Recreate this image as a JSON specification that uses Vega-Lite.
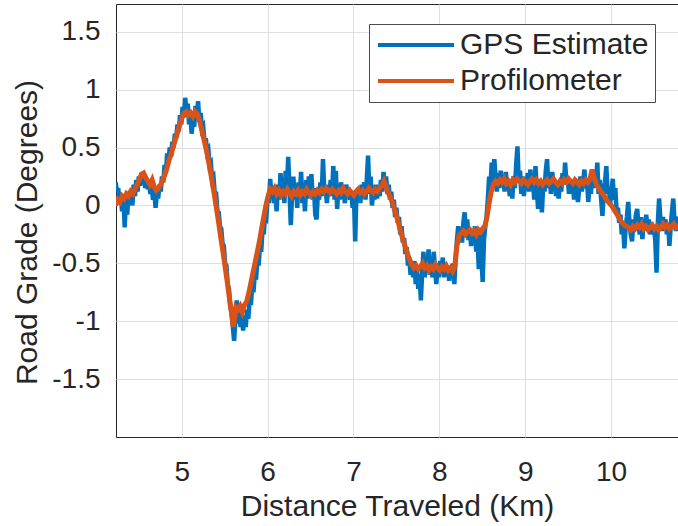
{
"$schema": "https://vega.github.io/schema/vega-lite/v6.json",
"width": 562, "height": 433,
"autosize": {"type": "none"},
"padding": {"left": 116, "top": 4, "right": 0, "bottom": 89},
"background": "white",
"config": {
  "view": {"stroke": "#262626", "strokeWidth": 1},
  "font": "Liberation Sans",
  "axis": {"domain": false, "ticks": false, "grid": true, "gridColor": "#dedede", "gridWidth": 1,
           "labelFont": "Liberation Sans", "labelFontSize": 28, "labelColor": "#262626",
           "titleFont": "Liberation Sans", "titleFontSize": 30, "titleFontWeight": "normal", "titleColor": "#262626"}
},
"datasets": {
"gps": [
{"km":4.230,"g":0.20},{"km":4.245,"g":0.12},{"km":4.260,"g":0.15},{"km":4.275,"g":0.02},{"km":4.290,"g":0.08},{"km":4.305,"g":-0.05},{"km":4.320,"g":0.10},{"km":4.335,"g":-0.19},{"km":4.350,"g":0.05},{"km":4.365,"g":-0.08},{"km":4.380,"g":0.12},{"km":4.395,"g":0.02},{"km":4.410,"g":0.14},{"km":4.425,"g":0.00},{"km":4.440,"g":0.18},{"km":4.455,"g":0.08},{"km":4.470,"g":0.22},{"km":4.485,"g":0.12},{"km":4.500,"g":0.25},{"km":4.515,"g":0.17},{"km":4.530,"g":0.28},{"km":4.545,"g":0.20},{"km":4.560,"g":0.25},{"km":4.575,"g":0.15},{"km":4.590,"g":0.22},{"km":4.605,"g":0.14},{"km":4.620,"g":0.18},{"km":4.635,"g":0.10},{"km":4.650,"g":0.16},{"km":4.665,"g":0.05},{"km":4.680,"g":0.12},{"km":4.695,"g":-0.02},{"km":4.710,"g":0.10},{"km":4.725,"g":0.06},{"km":4.740,"g":0.18},{"km":4.755,"g":0.12},{"km":4.770,"g":0.25},{"km":4.785,"g":0.20},{"km":4.800,"g":0.35},{"km":4.815,"g":0.28},{"km":4.830,"g":0.45},{"km":4.845,"g":0.38},{"km":4.860,"g":0.50},{"km":4.875,"g":0.42},{"km":4.890,"g":0.55},{"km":4.905,"g":0.50},{"km":4.920,"g":0.62},{"km":4.935,"g":0.58},{"km":4.950,"g":0.70},{"km":4.965,"g":0.64},{"km":4.980,"g":0.78},{"km":4.995,"g":0.70},{"km":5.010,"g":0.85},{"km":5.025,"g":0.76},{"km":5.040,"g":0.93},{"km":5.055,"g":0.82},{"km":5.070,"g":0.88},{"km":5.085,"g":0.70},{"km":5.100,"g":0.78},{"km":5.115,"g":0.62},{"km":5.130,"g":0.74},{"km":5.145,"g":0.68},{"km":5.160,"g":0.86},{"km":5.175,"g":0.75},{"km":5.190,"g":0.90},{"km":5.205,"g":0.72},{"km":5.220,"g":0.80},{"km":5.235,"g":0.66},{"km":5.250,"g":0.68},{"km":5.265,"g":0.55},{"km":5.280,"g":0.58},{"km":5.295,"g":0.46},{"km":5.310,"g":0.48},{"km":5.325,"g":0.34},{"km":5.340,"g":0.36},{"km":5.355,"g":0.22},{"km":5.370,"g":0.24},{"km":5.385,"g":0.10},{"km":5.400,"g":0.10},{"km":5.415,"g":-0.05},{"km":5.430,"g":-0.06},{"km":5.445,"g":-0.18},{"km":5.460,"g":-0.20},{"km":5.475,"g":-0.33},{"km":5.490,"g":-0.35},{"km":5.505,"g":-0.50},{"km":5.520,"g":-0.52},{"km":5.535,"g":-0.68},{"km":5.550,"g":-0.72},{"km":5.565,"g":-0.88},{"km":5.580,"g":-0.92},{"km":5.595,"g":-1.05},{"km":5.610,"g":-1.17},{"km":5.625,"g":-0.98},{"km":5.640,"g":-0.82},{"km":5.655,"g":-1.02},{"km":5.670,"g":-0.90},{"km":5.685,"g":-1.05},{"km":5.700,"g":-0.96},{"km":5.715,"g":-1.08},{"km":5.730,"g":-0.95},{"km":5.745,"g":-1.05},{"km":5.760,"g":-0.90},{"km":5.775,"g":-0.98},{"km":5.790,"g":-0.82},{"km":5.805,"g":-0.86},{"km":5.820,"g":-0.70},{"km":5.835,"g":-0.75},{"km":5.850,"g":-0.60},{"km":5.865,"g":-0.64},{"km":5.880,"g":-0.48},{"km":5.895,"g":-0.52},{"km":5.910,"g":-0.36},{"km":5.925,"g":-0.40},{"km":5.940,"g":-0.22},{"km":5.955,"g":-0.25},{"km":5.970,"g":-0.08},{"km":5.985,"g":-0.10},
{"km":6.000,"g":0.05},{"km":6.015,"g":0.02},{"km":6.030,"g":0.23},{"km":6.045,"g":0.08},{"km":6.060,"g":0.15},{"km":6.075,"g":0.02},{"km":6.090,"g":0.10},{"km":6.105,"g":-0.05},{"km":6.120,"g":0.18},{"km":6.135,"g":0.05},{"km":6.150,"g":0.28},{"km":6.165,"g":0.10},{"km":6.180,"g":0.22},{"km":6.195,"g":0.02},{"km":6.210,"g":0.30},{"km":6.225,"g":0.15},{"km":6.240,"g":0.42},{"km":6.255,"g":0.12},{"km":6.270,"g":-0.17},{"km":6.285,"g":0.10},{"km":6.300,"g":0.25},{"km":6.315,"g":0.05},{"km":6.330,"g":0.18},{"km":6.345,"g":-0.02},{"km":6.360,"g":0.20},{"km":6.375,"g":0.08},{"km":6.390,"g":0.29},{"km":6.405,"g":0.02},{"km":6.420,"g":0.12},{"km":6.435,"g":-0.05},{"km":6.450,"g":0.22},{"km":6.465,"g":0.06},{"km":6.480,"g":0.25},{"km":6.495,"g":0.10},{"km":6.510,"g":0.27},{"km":6.525,"g":0.05},{"km":6.540,"g":0.15},{"km":6.555,"g":-0.08},{"km":6.570,"g":-0.12},{"km":6.585,"g":0.10},{"km":6.600,"g":0.05},{"km":6.615,"g":0.20},{"km":6.630,"g":0.08},{"km":6.645,"g":0.40},{"km":6.660,"g":0.12},{"km":6.675,"g":0.18},{"km":6.690,"g":0.02},{"km":6.705,"g":0.15},{"km":6.720,"g":0.10},{"km":6.735,"g":0.22},{"km":6.750,"g":0.08},{"km":6.765,"g":0.34},{"km":6.780,"g":0.05},{"km":6.795,"g":0.30},{"km":6.810,"g":-0.03},{"km":6.825,"g":0.15},{"km":6.840,"g":0.05},{"km":6.855,"g":0.20},{"km":6.870,"g":0.08},{"km":6.885,"g":0.12},{"km":6.900,"g":0.02},{"km":6.915,"g":0.18},{"km":6.930,"g":0.10},{"km":6.945,"g":0.15},{"km":6.960,"g":0.05},{"km":6.975,"g":0.12},{"km":6.990,"g":-0.02},
{"km":7.005,"g":0.10},{"km":7.020,"g":-0.31},{"km":7.035,"g":0.12},{"km":7.050,"g":0.05},{"km":7.065,"g":0.15},{"km":7.080,"g":0.02},{"km":7.095,"g":0.18},{"km":7.110,"g":0.08},{"km":7.125,"g":0.20},{"km":7.140,"g":0.05},{"km":7.155,"g":0.22},{"km":7.170,"g":0.43},{"km":7.185,"g":0.10},{"km":7.200,"g":0.25},{"km":7.215,"g":0.00},{"km":7.230,"g":0.12},{"km":7.245,"g":0.05},{"km":7.260,"g":0.18},{"km":7.275,"g":0.06},{"km":7.290,"g":0.15},{"km":7.305,"g":0.08},{"km":7.320,"g":0.22},{"km":7.335,"g":0.12},{"km":7.350,"g":0.29},{"km":7.365,"g":0.15},{"km":7.380,"g":0.25},{"km":7.395,"g":0.10},{"km":7.410,"g":0.18},{"km":7.425,"g":0.05},{"km":7.440,"g":0.12},{"km":7.455,"g":-0.02},{"km":7.470,"g":0.05},{"km":7.485,"g":-0.10},{"km":7.500,"g":-0.02},{"km":7.515,"g":-0.15},{"km":7.530,"g":-0.10},{"km":7.545,"g":-0.25},{"km":7.560,"g":-0.18},{"km":7.575,"g":-0.32},{"km":7.590,"g":-0.28},{"km":7.605,"g":-0.42},{"km":7.620,"g":-0.36},{"km":7.635,"g":-0.52},{"km":7.650,"g":-0.45},{"km":7.665,"g":-0.60},{"km":7.680,"g":-0.50},{"km":7.695,"g":-0.62},{"km":7.710,"g":-0.48},{"km":7.725,"g":-0.68},{"km":7.740,"g":-0.55},{"km":7.755,"g":-0.72},{"km":7.770,"g":-0.60},{"km":7.785,"g":-0.82},{"km":7.800,"g":-0.58},{"km":7.815,"g":-0.40},{"km":7.830,"g":-0.62},{"km":7.845,"g":-0.45},{"km":7.860,"g":-0.55},{"km":7.875,"g":-0.38},{"km":7.890,"g":-0.60},{"km":7.905,"g":-0.48},{"km":7.920,"g":-0.62},{"km":7.935,"g":-0.40},{"km":7.950,"g":-0.55},{"km":7.965,"g":-0.68},{"km":7.980,"g":-0.50},{"km":7.995,"g":-0.62},
{"km":8.010,"g":-0.48},{"km":8.025,"g":-0.58},{"km":8.040,"g":-0.45},{"km":8.055,"g":-0.62},{"km":8.070,"g":-0.50},{"km":8.085,"g":-0.60},{"km":8.100,"g":-0.52},{"km":8.115,"g":-0.65},{"km":8.130,"g":-0.55},{"km":8.145,"g":-0.62},{"km":8.160,"g":-0.50},{"km":8.175,"g":-0.68},{"km":8.190,"g":-0.45},{"km":8.205,"g":-0.30},{"km":8.220,"g":-0.18},{"km":8.235,"g":-0.28},{"km":8.250,"g":-0.20},{"km":8.265,"g":-0.32},{"km":8.280,"g":-0.15},{"km":8.295,"g":-0.06},{"km":8.310,"g":-0.22},{"km":8.325,"g":-0.12},{"km":8.340,"g":-0.30},{"km":8.355,"g":-0.20},{"km":8.370,"g":-0.35},{"km":8.385,"g":-0.22},{"km":8.400,"g":-0.28},{"km":8.415,"g":-0.18},{"km":8.430,"g":-0.40},{"km":8.445,"g":-0.30},{"km":8.460,"g":-0.55},{"km":8.475,"g":-0.25},{"km":8.490,"g":-0.45},{"km":8.505,"g":-0.66},{"km":8.520,"g":-0.30},{"km":8.535,"g":-0.18},{"km":8.550,"g":-0.10},{"km":8.565,"g":0.05},{"km":8.580,"g":0.25},{"km":8.595,"g":0.15},{"km":8.610,"g":0.37},{"km":8.625,"g":0.20},{"km":8.640,"g":0.40},{"km":8.655,"g":0.25},{"km":8.670,"g":0.12},{"km":8.685,"g":0.28},{"km":8.700,"g":0.15},{"km":8.715,"g":0.30},{"km":8.730,"g":0.18},{"km":8.745,"g":0.25},{"km":8.760,"g":0.12},{"km":8.775,"g":0.29},{"km":8.790,"g":0.15},{"km":8.805,"g":0.22},{"km":8.820,"g":0.08},{"km":8.835,"g":0.20},{"km":8.850,"g":0.06},{"km":8.865,"g":0.25},{"km":8.880,"g":0.15},{"km":8.895,"g":0.35},{"km":8.910,"g":0.51},{"km":8.925,"g":0.20},{"km":8.940,"g":0.30},{"km":8.955,"g":0.10},{"km":8.970,"g":0.25},{"km":8.985,"g":0.08},
{"km":9.000,"g":0.22},{"km":9.015,"g":0.15},{"km":9.030,"g":0.28},{"km":9.045,"g":0.12},{"km":9.060,"g":0.31},{"km":9.075,"g":0.18},{"km":9.090,"g":0.25},{"km":9.105,"g":0.05},{"km":9.120,"g":0.34},{"km":9.135,"g":0.15},{"km":9.150,"g":-0.03},{"km":9.165,"g":0.20},{"km":9.180,"g":0.10},{"km":9.195,"g":-0.06},{"km":9.210,"g":0.18},{"km":9.225,"g":0.12},{"km":9.240,"g":0.30},{"km":9.255,"g":0.40},{"km":9.270,"g":0.15},{"km":9.285,"g":0.25},{"km":9.300,"g":0.10},{"km":9.315,"g":0.29},{"km":9.330,"g":0.18},{"km":9.345,"g":0.22},{"km":9.360,"g":0.08},{"km":9.375,"g":0.15},{"km":9.390,"g":0.06},{"km":9.405,"g":0.20},{"km":9.420,"g":0.12},{"km":9.435,"g":0.28},{"km":9.450,"g":0.18},{"km":9.465,"g":0.37},{"km":9.480,"g":0.20},{"km":9.495,"g":0.25},{"km":9.510,"g":0.10},{"km":9.525,"g":0.22},{"km":9.540,"g":0.12},{"km":9.555,"g":0.18},{"km":9.570,"g":0.05},{"km":9.585,"g":0.20},{"km":9.600,"g":0.10},{"km":9.615,"g":0.03},{"km":9.630,"g":0.15},{"km":9.645,"g":0.25},{"km":9.660,"g":0.12},{"km":9.675,"g":0.20},{"km":9.690,"g":0.31},{"km":9.705,"g":0.15},{"km":9.720,"g":0.22},{"km":9.735,"g":0.03},{"km":9.750,"g":0.18},{"km":9.765,"g":0.10},{"km":9.780,"g":0.25},{"km":9.795,"g":0.15},{"km":9.810,"g":0.30},{"km":9.825,"g":0.20},{"km":9.840,"g":0.37},{"km":9.855,"g":0.10},{"km":9.870,"g":0.22},{"km":9.885,"g":0.05},{"km":9.900,"g":-0.09},{"km":9.915,"g":0.12},{"km":9.930,"g":0.20},{"km":9.945,"g":0.34},{"km":9.960,"g":0.10},{"km":9.975,"g":0.15},{"km":9.990,"g":0.02},
{"km":10.005,"g":0.12},{"km":10.020,"g":0.23},{"km":10.035,"g":0.05},{"km":10.050,"g":0.15},{"km":10.065,"g":-0.06},{"km":10.080,"g":-0.02},{"km":10.095,"g":-0.15},{"km":10.110,"g":-0.08},{"km":10.125,"g":-0.25},{"km":10.140,"g":-0.15},{"km":10.155,"g":-0.37},{"km":10.170,"g":-0.20},{"km":10.185,"g":-0.10},{"km":10.200,"g":0.03},{"km":10.215,"g":-0.15},{"km":10.230,"g":-0.25},{"km":10.245,"g":-0.31},{"km":10.260,"g":-0.12},{"km":10.275,"g":-0.20},{"km":10.290,"g":-0.08},{"km":10.305,"g":-0.03},{"km":10.320,"g":-0.18},{"km":10.335,"g":-0.25},{"km":10.350,"g":-0.10},{"km":10.365,"g":-0.29},{"km":10.380,"g":-0.15},{"km":10.395,"g":-0.22},{"km":10.410,"g":-0.08},{"km":10.425,"g":-0.20},{"km":10.440,"g":-0.12},{"km":10.455,"g":-0.25},{"km":10.470,"g":-0.15},{"km":10.485,"g":-0.25},{"km":10.500,"g":-0.18},{"km":10.515,"g":-0.30},{"km":10.530,"g":-0.58},{"km":10.545,"g":-0.15},{"km":10.560,"g":0.06},{"km":10.575,"g":-0.12},{"km":10.590,"g":-0.22},{"km":10.605,"g":-0.10},{"km":10.620,"g":-0.20},{"km":10.635,"g":-0.12},{"km":10.650,"g":-0.25},{"km":10.665,"g":-0.15},{"km":10.680,"g":-0.35},{"km":10.695,"g":-0.18},{"km":10.710,"g":-0.05},{"km":10.725,"g":0.06},{"km":10.740,"g":-0.15},{"km":10.755,"g":-0.22},{"km":10.770,"g":-0.12},{"km":10.785,"g":-0.10}
],
"prof": [
{"km":4.230,"g":0.00},{"km":4.255,"g":0.05},{"km":4.280,"g":0.03},{"km":4.305,"g":0.08},{"km":4.330,"g":0.06},{"km":4.355,"g":0.10},{"km":4.380,"g":0.08},{"km":4.405,"g":0.12},{"km":4.430,"g":0.10},{"km":4.455,"g":0.14},{"km":4.480,"g":0.18},{"km":4.505,"g":0.22},{"km":4.530,"g":0.27},{"km":4.555,"g":0.28},{"km":4.580,"g":0.24},{"km":4.605,"g":0.21},{"km":4.630,"g":0.18},{"km":4.655,"g":0.22},{"km":4.680,"g":0.16},{"km":4.705,"g":0.13},{"km":4.730,"g":0.15},{"km":4.755,"g":0.18},{"km":4.780,"g":0.22},{"km":4.805,"g":0.27},{"km":4.830,"g":0.33},{"km":4.855,"g":0.40},{"km":4.880,"g":0.45},{"km":4.905,"g":0.52},{"km":4.930,"g":0.58},{"km":4.955,"g":0.64},{"km":4.980,"g":0.71},{"km":5.005,"g":0.76},{"km":5.030,"g":0.80},{"km":5.055,"g":0.81},{"km":5.080,"g":0.78},{"km":5.105,"g":0.80},{"km":5.130,"g":0.77},{"km":5.155,"g":0.81},{"km":5.180,"g":0.79},{"km":5.205,"g":0.74},{"km":5.230,"g":0.66},{"km":5.255,"g":0.58},{"km":5.280,"g":0.50},{"km":5.305,"g":0.41},{"km":5.330,"g":0.31},{"km":5.355,"g":0.20},{"km":5.380,"g":0.09},{"km":5.405,"g":-0.03},{"km":5.430,"g":-0.15},{"km":5.455,"g":-0.28},{"km":5.480,"g":-0.40},{"km":5.505,"g":-0.53},{"km":5.530,"g":-0.66},{"km":5.555,"g":-0.80},{"km":5.580,"g":-0.93},{"km":5.600,"g":-1.05},{"km":5.615,"g":-0.97},{"km":5.630,"g":-0.88},{"km":5.655,"g":-0.90},{"km":5.680,"g":-0.87},{"km":5.705,"g":-0.92},{"km":5.730,"g":-0.86},{"km":5.755,"g":-0.83},{"km":5.780,"g":-0.76},{"km":5.805,"g":-0.67},{"km":5.830,"g":-0.58},{"km":5.855,"g":-0.49},{"km":5.880,"g":-0.40},{"km":5.905,"g":-0.31},{"km":5.930,"g":-0.20},{"km":5.955,"g":-0.10},{"km":5.980,"g":0.00},
{"km":6.005,"g":0.08},{"km":6.030,"g":0.14},{"km":6.055,"g":0.12},{"km":6.080,"g":0.15},{"km":6.105,"g":0.10},{"km":6.130,"g":0.13},{"km":6.155,"g":0.09},{"km":6.180,"g":0.12},{"km":6.205,"g":0.10},{"km":6.230,"g":0.14},{"km":6.255,"g":0.11},{"km":6.280,"g":0.08},{"km":6.305,"g":0.12},{"km":6.330,"g":0.10},{"km":6.355,"g":0.13},{"km":6.380,"g":0.09},{"km":6.405,"g":0.12},{"km":6.430,"g":0.10},{"km":6.455,"g":0.14},{"km":6.480,"g":0.11},{"km":6.505,"g":0.09},{"km":6.530,"g":0.12},{"km":6.555,"g":0.10},{"km":6.580,"g":0.13},{"km":6.605,"g":0.11},{"km":6.630,"g":0.14},{"km":6.655,"g":0.12},{"km":6.680,"g":0.15},{"km":6.705,"g":0.13},{"km":6.730,"g":0.11},{"km":6.755,"g":0.14},{"km":6.780,"g":0.12},{"km":6.805,"g":0.10},{"km":6.830,"g":0.13},{"km":6.855,"g":0.11},{"km":6.880,"g":0.15},{"km":6.905,"g":0.12},{"km":6.930,"g":0.10},{"km":6.955,"g":0.13},{"km":6.980,"g":0.11},{"km":7.005,"g":0.09},{"km":7.030,"g":0.12},{"km":7.055,"g":0.14},{"km":7.080,"g":0.11},{"km":7.105,"g":0.13},{"km":7.130,"g":0.10},{"km":7.155,"g":0.12},{"km":7.180,"g":0.15},{"km":7.205,"g":0.13},{"km":7.230,"g":0.11},{"km":7.255,"g":0.14},{"km":7.280,"g":0.12},{"km":7.305,"g":0.15},{"km":7.330,"g":0.17},{"km":7.355,"g":0.21},{"km":7.380,"g":0.16},{"km":7.405,"g":0.11},{"km":7.430,"g":0.07},{"km":7.455,"g":0.02},{"km":7.480,"g":-0.04},{"km":7.505,"g":-0.10},{"km":7.530,"g":-0.17},{"km":7.555,"g":-0.24},{"km":7.580,"g":-0.30},{"km":7.605,"g":-0.36},{"km":7.630,"g":-0.42},{"km":7.655,"g":-0.47},{"km":7.680,"g":-0.51},{"km":7.705,"g":-0.54},{"km":7.730,"g":-0.52},{"km":7.755,"g":-0.55},{"km":7.780,"g":-0.53},{"km":7.805,"g":-0.50},{"km":7.830,"g":-0.54},{"km":7.855,"g":-0.52},{"km":7.880,"g":-0.56},{"km":7.905,"g":-0.53},{"km":7.930,"g":-0.55},{"km":7.955,"g":-0.51},{"km":7.980,"g":-0.54},
{"km":8.005,"g":-0.56},{"km":8.030,"g":-0.53},{"km":8.055,"g":-0.55},{"km":8.080,"g":-0.52},{"km":8.105,"g":-0.56},{"km":8.130,"g":-0.54},{"km":8.155,"g":-0.57},{"km":8.180,"g":-0.53},{"km":8.205,"g":-0.35},{"km":8.230,"g":-0.26},{"km":8.255,"g":-0.24},{"km":8.280,"g":-0.22},{"km":8.305,"g":-0.25},{"km":8.330,"g":-0.23},{"km":8.355,"g":-0.21},{"km":8.380,"g":-0.24},{"km":8.405,"g":-0.22},{"km":8.430,"g":-0.25},{"km":8.455,"g":-0.21},{"km":8.480,"g":-0.23},{"km":8.505,"g":-0.20},{"km":8.530,"g":-0.18},{"km":8.555,"g":-0.10},{"km":8.580,"g":0.02},{"km":8.605,"g":0.12},{"km":8.630,"g":0.18},{"km":8.655,"g":0.21},{"km":8.680,"g":0.19},{"km":8.705,"g":0.22},{"km":8.730,"g":0.20},{"km":8.755,"g":0.23},{"km":8.780,"g":0.19},{"km":8.805,"g":0.21},{"km":8.830,"g":0.18},{"km":8.855,"g":0.22},{"km":8.880,"g":0.20},{"km":8.905,"g":0.23},{"km":8.930,"g":0.21},{"km":8.955,"g":0.19},{"km":8.980,"g":0.22},
{"km":9.005,"g":0.20},{"km":9.030,"g":0.18},{"km":9.055,"g":0.21},{"km":9.080,"g":0.23},{"km":9.105,"g":0.20},{"km":9.130,"g":0.22},{"km":9.155,"g":0.19},{"km":9.180,"g":0.21},{"km":9.205,"g":0.18},{"km":9.230,"g":0.20},{"km":9.255,"g":0.22},{"km":9.280,"g":0.19},{"km":9.305,"g":0.21},{"km":9.330,"g":0.23},{"km":9.355,"g":0.20},{"km":9.380,"g":0.18},{"km":9.405,"g":0.21},{"km":9.430,"g":0.19},{"km":9.455,"g":0.22},{"km":9.480,"g":0.20},{"km":9.505,"g":0.23},{"km":9.530,"g":0.21},{"km":9.555,"g":0.19},{"km":9.580,"g":0.22},{"km":9.605,"g":0.20},{"km":9.630,"g":0.18},{"km":9.655,"g":0.21},{"km":9.680,"g":0.19},{"km":9.705,"g":0.22},{"km":9.730,"g":0.20},{"km":9.755,"g":0.23},{"km":9.780,"g":0.31},{"km":9.805,"g":0.24},{"km":9.830,"g":0.18},{"km":9.855,"g":0.15},{"km":9.880,"g":0.12},{"km":9.905,"g":0.10},{"km":9.930,"g":0.07},{"km":9.955,"g":0.04},{"km":9.980,"g":0.02},
{"km":10.005,"g":0.00},{"km":10.030,"g":-0.03},{"km":10.055,"g":-0.06},{"km":10.080,"g":-0.09},{"km":10.105,"g":-0.12},{"km":10.130,"g":-0.15},{"km":10.155,"g":-0.17},{"km":10.180,"g":-0.18},{"km":10.205,"g":-0.19},{"km":10.230,"g":-0.21},{"km":10.255,"g":-0.18},{"km":10.280,"g":-0.20},{"km":10.305,"g":-0.17},{"km":10.330,"g":-0.19},{"km":10.355,"g":-0.16},{"km":10.380,"g":-0.20},{"km":10.405,"g":-0.18},{"km":10.430,"g":-0.21},{"km":10.455,"g":-0.19},{"km":10.480,"g":-0.17},{"km":10.505,"g":-0.20},{"km":10.530,"g":-0.18},{"km":10.555,"g":-0.21},{"km":10.580,"g":-0.19},{"km":10.605,"g":-0.16},{"km":10.630,"g":-0.19},{"km":10.655,"g":-0.17},{"km":10.680,"g":-0.20},{"km":10.705,"g":-0.18},{"km":10.730,"g":-0.16},{"km":10.755,"g":-0.19},{"km":10.785,"g":-0.17}
]
},
"layer": [
{
 "data": {"name": "gps"},
 "mark": {"type": "line", "strokeWidth": 4.5, "clip": true},
 "encoding": {
  "x": {"field": "km", "type": "quantitative",
        "scale": {"domain": [4.234, 10.78], "nice": false, "zero": false},
        "axis": {"values": [5,6,7,8,9,10], "format": "d", "labelPadding": 21, "title": "Distance Traveled (Km)", "titlePadding": 5}},
  "y": {"field": "g", "type": "quantitative",
        "scale": {"domain": [-2, 1.74], "nice": false, "zero": false},
        "axis": {"values": [-1.5,-1,-0.5,0,0.5,1,1.5], "labelExpr": "toString(datum.value)", "labelPadding": 16, "title": "Road Grade (Degrees)", "titlePadding": 9, "titleY": 228}},
  "color": {"datum": "GPS Estimate", "type": "nominal",
            "scale": {"domain": ["GPS Estimate", "Profilometer"], "range": ["#0072BD", "#D95319"]},
            "legend": {"title": null, "orient": "none", "legendX": 253, "legendY": 20, "padding": 6,
                       "strokeColor": "#4d4d4d", "fillColor": "white",
                       "labelFont": "Liberation Sans", "labelFontSize": 30, "labelColor": "#262626", "labelLimit": 400,
                       "symbolType": "M-4,0H4", "symbolSize": 361, "symbolStrokeWidth": 4,
                       "symbolOffset": 26, "labelOffset": 29, "rowPadding": 6}}
 }
},
{
 "data": {"name": "prof"},
 "mark": {"type": "line", "strokeWidth": 5, "clip": true},
 "encoding": {
  "x": {"field": "km", "type": "quantitative"},
  "y": {"field": "g", "type": "quantitative"},
  "color": {"datum": "Profilometer", "type": "nominal"}
 }
}
]
}
